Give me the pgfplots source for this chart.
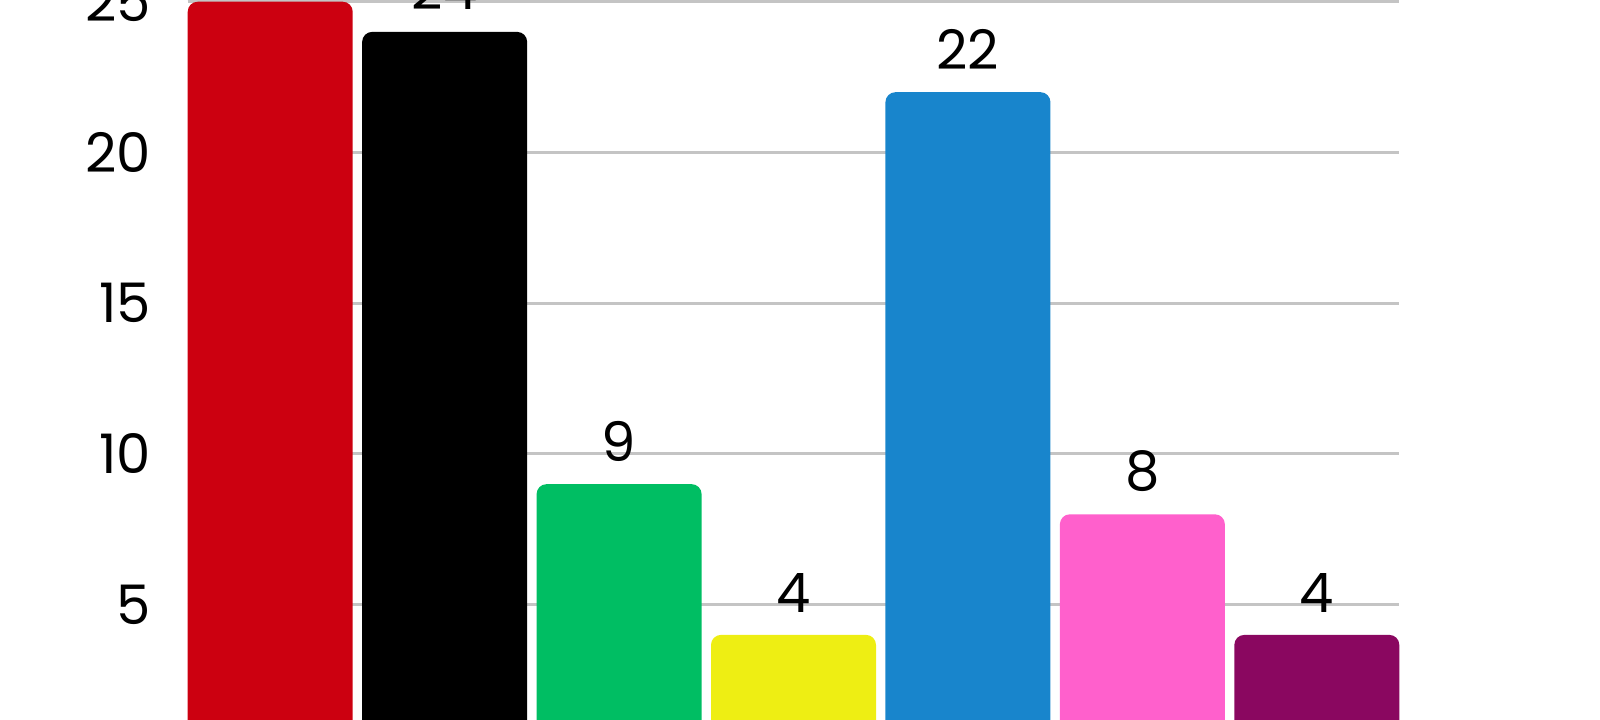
\documentclass[border=0pt]{standalone}
\usepackage{pgfplots}
\pgfplotsset{compat=1.18}
\usepackage{fontspec}
\setmainfont{Poppins}

\definecolor{cRed}{HTML}{CC0010}
\definecolor{cBlack}{HTML}{000000}
\definecolor{cGreen}{HTML}{00BE63}
\definecolor{cYellow}{HTML}{EEEE13}
\definecolor{cBlue}{HTML}{1885CC}
\definecolor{cPink}{HTML}{FF60CC}
\definecolor{cPurple}{HTML}{8A0760}
\definecolor{gridgray}{HTML}{C4C4C4}

\begin{document}
\begin{tikzpicture}
% the reference shows only a cut-out of the chart
\path[use as bounding box, clip] (0,0) rectangle (16cm,7.2cm);
\begin{axis}[
    at={(1.877cm,-0.355cm)}, anchor=south west,
    scale only axis,
    width=12.116cm, height=7.5375cm,
    xmin=-0.473, xmax=6.473,
    ymin=0, ymax=25,
    axis line style={draw=none},
    major tick length=0pt,
    ytick={5,10,15,20,25},
    xtick=\empty,
    ymajorgrids,
    grid style={gridgray, line width=0.85pt},
    yticklabel style={anchor=east, inner sep=0pt, xshift=-0.36cm},
    ybar=0pt, bar width=1.65cm, bar shift=0pt,
    /pgf/number format/assume math mode=true,
    font=\fontsize{15.5}{18}\selectfont,
    nodes near coords,
    nodes near coords style={font=\fontsize{15.5}{18}\selectfont, inner sep=0pt, anchor=south, yshift=0.22cm},
    clip=false,
]
\addplot[fill=cRed, draw=none, rounded corners=0.1cm] coordinates {(0,25)};
\addplot[fill=cBlack, draw=none, rounded corners=0.1cm] coordinates {(1,24)};
\addplot[fill=cGreen, draw=none, rounded corners=0.1cm] coordinates {(2,9)};
\addplot[fill=cYellow, draw=none, rounded corners=0.1cm] coordinates {(3,4)};
\addplot[fill=cBlue, draw=none, rounded corners=0.1cm] coordinates {(4,22)};
\addplot[fill=cPink, draw=none, rounded corners=0.1cm] coordinates {(5,8)};
\addplot[fill=cPurple, draw=none, rounded corners=0.1cm] coordinates {(6,4)};
\end{axis}
\end{tikzpicture}
\end{document}
